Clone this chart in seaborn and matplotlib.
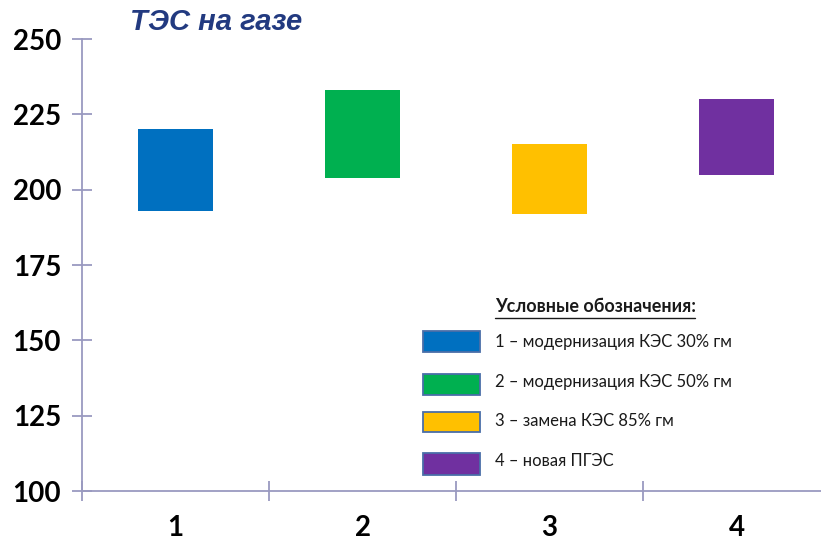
import matplotlib
matplotlib.use("Agg")
import matplotlib.pyplot as plt
import seaborn as sns
import pandas as pd
from matplotlib.patches import Rectangle
from matplotlib.lines import Line2D

# ---- data ----
categories = ["1", "2", "3", "4"]
low_values = [193, 204, 192, 205]
high_values = [220, 233, 215, 230]
colors = ["#0070C0", "#00B050", "#FFC000", "#7030A0"]
legend_labels = [
    "1 – модернизация КЭС 30% гм",
    "2 – модернизация КЭС 50% гм",
    "3 – замена КЭС 85% гм",
    "4 – новая ПГЭС",
]
legend_title = "Условные обозначения:"
title = "ТЭС на газе"
y_ticks = [100, 125, 150, 175, 200, 225, 250]

df = pd.DataFrame({
    "cat": categories,
    "low": low_values,
    "high": high_values,
})
df["span"] = df["high"] - df["low"]

sns.set_theme(style="white")
plt.rcParams["font.family"] = ["Lato", "DejaVu Sans"]

W, H = 821, 542
fig = plt.figure(figsize=(W / 100, H / 100), dpi=100)
ax = fig.add_axes([82 / W, (H - 491) / H, (W - 82) / W, (491 - 39) / H])

sns.barplot(data=df, x="cat", y="span", hue="cat", palette=colors,
            width=0.4, legend=False, ax=ax, edgecolor="none", saturation=1)
# floating bars: move each bar to start at its low value
for cont, lo in zip(ax.containers, df["low"]):
    for p in cont.patches:
        p.set_y(lo)

ax.set_yticks(y_ticks)
ax.set_yticklabels([str(v) for v in y_ticks])
ax.set_xticks([-0.5, 0.5, 1.5, 2.5, 3.5], minor=True)
ax.set_ylim(100, 250)
ax.set_xlim(-0.5, -0.5 + (W - 82) / 187)
ax.set_xlabel("")
ax.set_ylabel("")

axis_col = "#9a9ac0"
for s in ["top", "right"]:
    ax.spines[s].set_visible(False)
for s in ["left", "bottom"]:
    ax.spines[s].set_color(axis_col)
    ax.spines[s].set_linewidth(1.3)

ax.tick_params(axis="y", which="major", direction="inout", length=14,
               width=1.3, color=axis_col, labelsize=20, pad=8, left=True)
ax.tick_params(axis="x", which="major", length=0, labelsize=20, pad=17, bottom=True)
ax.tick_params(axis="x", which="minor", direction="inout", length=14,
               width=1.3, color=axis_col, bottom=True)
for lab in ax.get_yticklabels() + ax.get_xticklabels():
    lab.set_fontweight("bold")
    lab.set_color("black")

fig.text(130 / W, 1 - 22 / H, title, ha="left", va="center",
         fontsize=21, fontweight="bold", fontstyle="italic",
         color="#223A80", family=["Liberation Sans", "DejaVu Sans"])

# legend (manual, placed in figure pixels)
fig.text(495 / W, 1 - 306 / H, legend_title, ha="left", va="center",
         fontsize=13, fontweight="bold", color="#1a1a1a")
fig.add_artist(Line2D([495 / W, 695 / W], [1 - 318 / H, 1 - 318 / H],
                      color="#1a1a1a", lw=1.0))
rows_patch = [(331, 352), (374, 395), (412, 432), (453, 475)]
rows_text = [342, 382, 421, 461]
for (t, b), ty, lab, c in zip(rows_patch, rows_text, legend_labels, colors):
    fig.add_artist(Rectangle((423 / W, 1 - b / H), 57 / W, (b - t) / H,
                             facecolor=c, edgecolor="#4a6ea8", lw=1.3,
                             transform=fig.transFigure))
    fig.text(495 / W, 1 - ty / H, lab, ha="left", va="center",
             fontsize=12, color="#1a1a1a")

fig.savefig("out.png", dpi=100)
